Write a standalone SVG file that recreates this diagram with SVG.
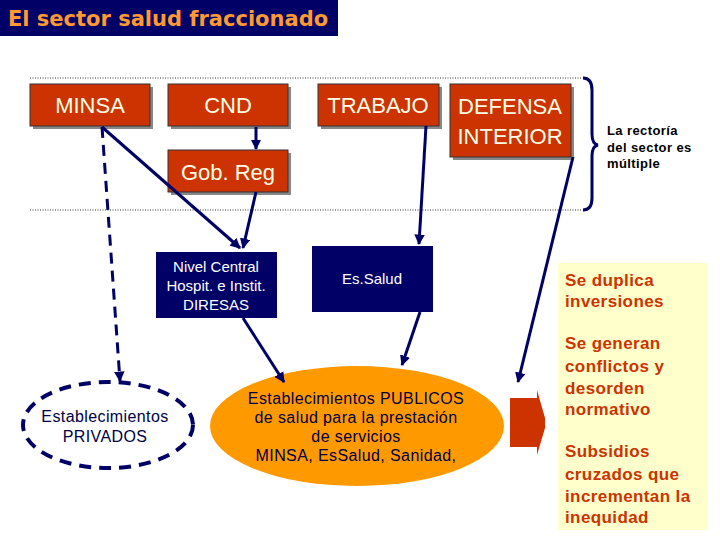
<svg xmlns="http://www.w3.org/2000/svg" width="720" height="540" viewBox="0 0 720 540">
<defs>
<style>
.box{fill:#CC3300;stroke:#333;stroke-width:1}
.shadow{fill:#888}
.bt{font-family:"Liberation Sans",Arial,sans-serif;font-size:22px;fill:#FFFFE6;text-anchor:middle}
.nv{fill:#000066}
.wt{font-family:"Liberation Sans",Arial,sans-serif;font-size:15px;fill:#FFFFFF;text-anchor:middle}
.dk{font-family:"Liberation Sans",Arial,sans-serif;font-size:16px;fill:#000044;text-anchor:middle;letter-spacing:0.4px}
.con{stroke:#000066;stroke-width:3;fill:none}
.dot{stroke:#333;stroke-width:1;stroke-dasharray:1 1.5;fill:none}
.yt{font-family:"Liberation Sans",Arial,sans-serif;font-size:17px;font-weight:bold;fill:#CC3300;letter-spacing:0.4px}
.bk{font-family:"Liberation Sans",Arial,sans-serif;font-size:13px;font-weight:bold;fill:#000;letter-spacing:0.4px}
</style>
<marker id="ah" viewBox="0 0 10 10" refX="9" refY="5" markerWidth="3.5" markerHeight="3.5" orient="auto" markerUnits="strokeWidth">
<path d="M0,0 L10,5 L0,10 z" fill="#000066"/>
</marker>
</defs>
<rect width="720" height="540" fill="#FFFFFF"/>
<g id="title">
<rect x="0" y="0" width="338" height="36" fill="#000066"/>
<text x="8" y="26" font-family="Tahoma,'DejaVu Sans',sans-serif" font-size="21" font-weight="bold" fill="#FF9933">El sector salud fraccionado</text>
</g>
<g id="guides">
<line class="dot" x1="30" y1="78" x2="582" y2="78"/>
<line class="dot" x1="30" y1="210" x2="582" y2="210"/>
</g>
<g id="minsa">
<rect class="shadow" x="33" y="87" width="120" height="42"/>
<rect class="box" x="30" y="84" width="120" height="42"/>
<text class="bt" x="90" y="113">MINSA</text>
</g>
<g id="cnd">
<rect class="shadow" x="171" y="87" width="120" height="42"/>
<rect class="box" x="168" y="84" width="120" height="42"/>
<text class="bt" x="228" y="113">CND</text>
</g>
<g id="trabajo">
<rect class="shadow" x="321" y="87" width="121" height="42"/>
<rect class="box" x="318" y="84" width="121" height="42"/>
<text class="bt" x="378" y="113">TRABAJO</text>
</g>
<g id="defensa">
<rect class="shadow" x="453" y="87" width="121" height="73"/>
<rect class="box" x="450" y="84" width="121" height="73"/>
<text class="bt" x="510" y="114">DEFENSA</text>
<text class="bt" x="510" y="144">INTERIOR</text>
</g>
<g id="gobreg">
<rect class="shadow" x="171" y="153" width="120" height="42"/>
<rect class="box" x="168" y="150" width="120" height="42"/>
<text class="bt" x="228" y="180">Gob. Reg</text>
</g>
<g id="brace">
<path d="M583,78 Q592,78 592,90 L592,134 Q592,144 598,145 Q592,146 592,156 L592,198 Q592,210 583,210" fill="none" stroke="#000066" stroke-width="3"/>
<text class="bk" x="607" y="135">La rectoría</text>
<text class="bk" x="607" y="152">del sector es</text>
<text class="bk" x="607" y="168">múltiple</text>
</g>
<g id="nivel">
<rect class="nv" x="156" y="252" width="121" height="66"/>
<text class="wt" x="216" y="272">Nivel Central</text>
<text class="wt" x="216" y="291">Hospit. e Instit.</text>
<text class="wt" x="216" y="310">DIRESAS</text>
</g>
<g id="essalud">
<rect class="nv" x="312" y="246" width="121" height="66"/>
<text class="wt" x="372" y="284">Es.Salud</text>
</g>
<g id="privados">
<ellipse cx="108" cy="425" rx="85" ry="43" fill="#FFFFFF" stroke="#000066" stroke-width="4" stroke-dasharray="12 8"/>
<text class="dk" x="105" y="422">Establecimientos</text>
<text class="dk" x="105" y="442">PRIVADOS</text>
</g>
<g id="publicos">
<ellipse cx="357" cy="426" rx="147" ry="60" fill="#FF9900"/>
<text class="dk" x="356" y="404">Establecimientos PUBLICOS</text>
<text class="dk" x="356" y="423">de salud para la prestación</text>
<text class="dk" x="356" y="442">de servicios</text>
<text class="dk" x="356" y="461">MINSA, EsSalud, Sanidad,</text>
</g>
<g id="blockarrow">
<polygon points="510,398 537,398 537,390 545,418 545,428 537,455 537,447 510,447" fill="#CC3300"/>
</g>
<g id="consequences">
<rect x="558" y="263" width="150" height="267" fill="#FFFFCC"/>
<text class="yt" x="565" y="286">Se duplica</text>
<text class="yt" x="565" y="307">inversiones</text>
<text class="yt" x="565" y="349">Se generan</text>
<text class="yt" x="565" y="372">conflictos y</text>
<text class="yt" x="565" y="394">desorden</text>
<text class="yt" x="565" y="415">normativo</text>
<text class="yt" x="565" y="457">Subsidios</text>
<text class="yt" x="565" y="480">cruzados que</text>
<text class="yt" x="565" y="502">incrementan la</text>
<text class="yt" x="565" y="523">inequidad</text>
</g>
<g id="connectors">
<line class="con" x1="102" y1="127" x2="240" y2="248" marker-end="url(#ah)"/>
<line class="con" x1="256" y1="192" x2="243" y2="248" marker-end="url(#ah)"/>
<line class="con" x1="256" y1="127" x2="256" y2="149" marker-end="url(#ah)"/>
<line class="con" x1="102" y1="127" x2="120" y2="381" stroke-dasharray="11 7" marker-end="url(#ah)"/>
<line class="con" x1="426" y1="126" x2="419" y2="244" marker-end="url(#ah)"/>
<line class="con" x1="420" y1="312" x2="402" y2="365" marker-end="url(#ah)"/>
<line class="con" x1="243" y1="318" x2="284" y2="382" marker-end="url(#ah)"/>
<line class="con" x1="573" y1="157" x2="518" y2="382" marker-end="url(#ah)"/>
</g>
</svg>
